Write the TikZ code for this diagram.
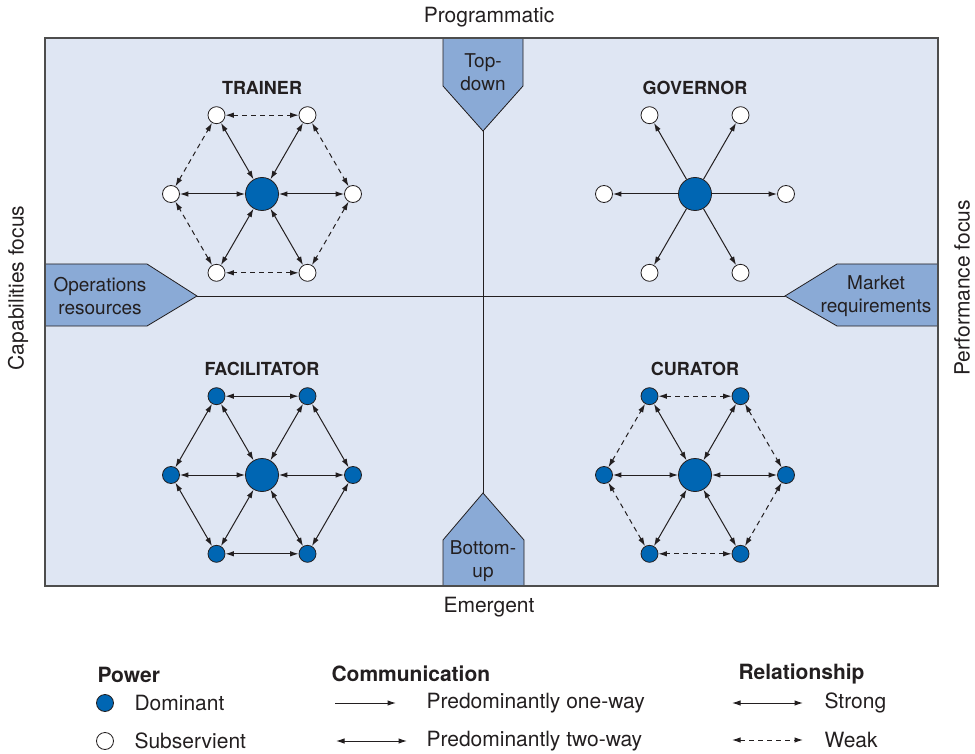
\documentclass[tikz,border=0pt]{standalone}
\usepackage{fontspec}
\setmainfont{TeX Gyre Heros}
\usetikzlibrary{arrows.meta}
\definecolor{panelbg}{HTML}{DFE6F3}
\definecolor{tabfill}{HTML}{8AAAD6}
\definecolor{domblue}{HTML}{0066B3}
\definecolor{ink}{HTML}{231F20}
\definecolor{frame}{HTML}{4D4D4D}
\tikzset{
  hub/.style={circle,draw=ink,fill=domblue,line width=0.8pt,minimum size=33pt,inner sep=0pt},
  dom/.style={circle,draw=ink,fill=domblue,line width=0.8pt,minimum size=17pt,inner sep=0pt},
  sub/.style={circle,draw=ink,fill=white,line width=0.8pt,minimum size=17pt,inner sep=0pt},
  link/.style={draw=ink,line width=1pt},
  oneway/.style={link,-{Latex[length=8.5pt,width=5.5pt]}},
  twoway/.style={link,{Latex[length=8.5pt,width=5.5pt]}-{Latex[length=8.5pt,width=5.5pt]}},
  weak/.style={twoway,dash pattern=on 5pt off 4pt},
  norim/.style={draw=none},
  tab/.style={fill=tabfill,draw=ink,line width=0.8pt},
  tabtext/.style={align=center,text=ink,font=\fontsize{19}{23}\selectfont},
  title/.style={text=ink,font=\fontsize{18}{21}\selectfont\bfseries},
  label/.style={text=ink,font=\fontsize{21}{25}\selectfont},
  head/.style={anchor=west,text=ink,font=\fontsize{21}{25}\selectfont\bfseries},
  entry/.style={anchor=west,text=ink,font=\fontsize{21}{25}\selectfont}
}
\begin{document}
\begin{tikzpicture}[x=1pt,y=-1pt]
\useasboundingbox (0,0) rectangle (975,754);
\fill[panelbg] (45,38) rectangle (938,586);

% tabs on the four sides
\draw[tab] (443,38) -- (523,38) -- (523,86) -- (483,131) -- (443,86) -- cycle;
\draw[tab] (443,586) -- (443,540) -- (483,493) -- (524,540) -- (524,586) -- cycle;
\draw[tab] (45,264) -- (147,264) -- (197,296) -- (147,326) -- (45,326) -- cycle;
\draw[tab] (938,264) -- (837,264) -- (785,296) -- (837,326) -- (938,326) -- cycle;
\coordinate (toptip) at (483,131);
\coordinate (bottip) at (483,493);
\coordinate (opstip) at (197,296);
\coordinate (mkttip) at (785,296);
\draw[ink,line width=1pt] (toptip) -- (bottip);
\draw[ink,line width=1pt] (opstip) -- (mkttip);
\draw[frame,line width=1.4pt] (45,38) rectangle (938,586);

\node[tabtext] (topdown) at (483,72) {Top-\\down};
\node[tabtext] (bottomup) at (483,561) {Bottom-\\up};
\node[tabtext] (opsres) at (100,296) {Operations\\resources};
\node[tabtext] (mktreq) at (876,296) {Market\\requirements};

\node[label] (prog) at (489,17) {Programmatic};
\node[label] (emerg) at (489,607) {Emergent};
\node[label,rotate=90] (capab) at (18,288) {Capabilities focus};
\node[label,rotate=90] (perf) at (962,288) {Performance focus};

% the four clusters
\foreach \cl/\name/\cx/\cy/\outer/\spoke/\rim in {
  trainer/TRAINER/262/194/sub/twoway/weak,
  governor/GOVERNOR/695/194/sub/oneway/norim,
  facilitator/FACILITATOR/262/475/dom/twoway/twoway,
  curator/CURATOR/695/475/dom/twoway/weak}{
  \node[title] (\cl-title) at (\cx,\cy-106) {\name};
  \node[hub] (\cl-c) at (\cx,\cy) {};
  \foreach \i in {1,...,6}
    \node[\outer] (\cl-\i) at ({\cx+91*cos(60*\i)},{\cy+91*sin(60*\i)}) {};
  \foreach \i in {1,...,6}{
    \pgfmathtruncatemacro\j{mod(\i,6)+1}
    \draw[\spoke] (\cl-c) -- (\cl-\i);
    \draw[\rim] (\cl-\i) -- (\cl-\j);
  }
}

% legend
\node[head] (power) at (94,675) {Power};
\node[dom] (domdot) at (105,703) {};
\node[entry] (domtxt) at (131,703) {Dominant};
\node[sub] (subdot) at (105,741) {};
\node[entry] (subtxt) at (131,741) {Subservient};

\node[head] (comm) at (328,674) {Communication};
\coordinate (ow1) at (335,703);
\coordinate (ow2) at (396,703);
\coordinate (tw1) at (336,741);
\coordinate (tw2) at (407,741);
\draw[oneway] (ow1) -- (ow2);
\draw[twoway] (tw1) -- (tw2);
\node[entry] (owtxt) at (423,703) {Predominantly one-way};
\node[entry] (twtxt) at (423,741) {Predominantly two-way};

\node[head] (rel) at (735,674) {Relationship};
\coordinate (st1) at (732,703);
\coordinate (st2) at (803,703);
\coordinate (wk1) at (732,740);
\coordinate (wk2) at (803,740);
\draw[twoway] (st1) -- (st2);
\draw[weak] (wk1) -- (wk2);
\node[entry] (sttxt) at (821,703) {Strong};
\node[entry] (wktxt) at (821,740) {Weak};
\end{tikzpicture}
\end{document}
